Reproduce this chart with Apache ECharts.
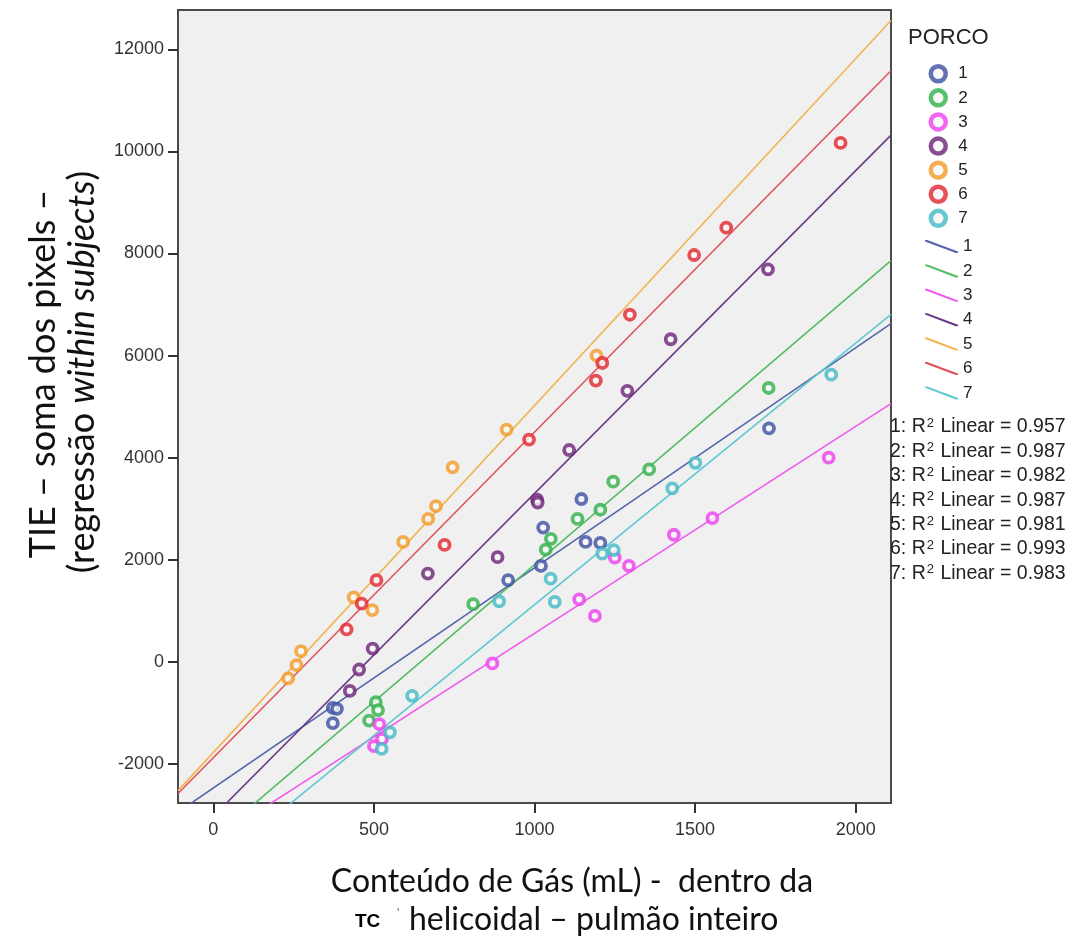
<!DOCTYPE html>
<html>
<head>
<meta charset="utf-8">
<script src="https://cdn.jsdelivr.net/npm/echarts@6/dist/echarts.min.js"></script>
<style>
  html, body { margin: 0; padding: 0; background: #ffffff; }
  #chart { width: 1075px; height: 942px; }
</style>
</head>
<body>
<div id="chart"></div>
<script>
// Gas content (mL, helical CT, whole lung) and TIE pixel sum, one pair of arrays per pig
const gasPorco1 = [372, 385, 372, 918, 1020, 1027, 1146, 1159, 1205, 1730];
const tiePorco1 = [-900, -920, -1200, 1600, 1880, 2630, 3190, 2350, 2330, 4575];

const gasPorco2 = [485, 506, 513, 809, 1035, 1051, 1134, 1205, 1245, 1357, 1729];
const tiePorco2 = [-1150, -790, -945, 1130, 2200, 2410, 2800, 2980, 3530, 3770, 5365];

const gasPorco3 = [500, 517, 525, 869, 1139, 1188, 1250, 1294, 1434, 1554, 1916];
const tiePorco3 = [-1650, -1220, -1510, -30, 1225, 900, 2040, 1880, 2490, 2815, 4000];

const gasPorco4 = [425, 454, 496, 668, 885, 1008, 1010, 1108, 1289, 1424, 1727];
const tiePorco4 = [-570, -150, 260, 1730, 2050, 3180, 3120, 4150, 5310, 6320, 7690];

const gasPorco5 = [233, 259, 273, 437, 495, 591, 669, 693, 745, 913, 1193];
const tiePorco5 = [-325, -65, 210, 1265, 1015, 2350, 2800, 3050, 3810, 4550, 6000];

const gasPorco6 = [415, 462, 508, 720, 983, 1191, 1211, 1297, 1497, 1597, 1953];
const tiePorco6 = [635, 1140, 1600, 2290, 4355, 5510, 5855, 6800, 7970, 8505, 10165];

const gasPorco7 = [524, 550, 619, 890, 1050, 1063, 1211, 1247, 1429, 1501, 1924];
const tiePorco7 = [-1705, -1380, -665, 1185, 1630, 1175, 2120, 2190, 3400, 3900, 5625];

const porcoNames = ['1', '2', '3', '4', '5', '6', '7'];
const r2Linear = [0.957, 0.987, 0.982, 0.987, 0.981, 0.993, 0.983];

const xTicks = [0, 500, 1000, 1500, 2000];
const yTicks = [-2000, 0, 2000, 4000, 6000, 8000, 10000, 12000];

const gasByPorco = [gasPorco1, gasPorco2, gasPorco3, gasPorco4, gasPorco5, gasPorco6, gasPorco7];
const tieByPorco = [tiePorco1, tiePorco2, tiePorco3, tiePorco4, tiePorco5, tiePorco6, tiePorco7];

const markerColors = ['#3c4fa2', '#2fb24a', '#ef3fef', '#6c2377', '#f29b27', '#e3262f', '#43b9c6'];
const lineColors   = ['#5566aa', '#52bd62', '#ee5bee', '#6a3b84', '#f2b452', '#e0535c', '#5ec7cf'];

const X_MIN = -110, X_MAX = 2110, Y_MIN = -2765, Y_MAX = 12770;

// ordinary least squares fit, one line per pig
function linearFit(xs, ys) {
  const n = xs.length;
  let sx = 0, sy = 0;
  for (let i = 0; i < n; i++) { sx += xs[i]; sy += ys[i]; }
  const mx = sx / n, my = sy / n;
  let sxy = 0, sxx = 0;
  for (let i = 0; i < n; i++) {
    sxy += (xs[i] - mx) * (ys[i] - my);
    sxx += (xs[i] - mx) * (xs[i] - mx);
  }
  const slope = sxy / sxx;
  return { slope: slope, intercept: my - slope * mx };
}

const series = [];
porcoNames.forEach(function (name, i) {
  series.push({
    name: name,
    type: 'scatter',
    z: 5,
    symbol: 'circle',
    symbolSize: 10,
    itemStyle: { color: '#f7f7f7', borderColor: markerColors[i], borderWidth: 3.8 },
    data: gasByPorco[i].map(function (g, k) { return [g, tieByPorco[i][k]]; })
  });
});
porcoNames.forEach(function (name, i) {
  const fit = linearFit(gasByPorco[i], tieByPorco[i]);
  series.push({
    name: 'Ajuste ' + name,
    type: 'line',
    z: 3,
    showSymbol: false,
    symbol: 'none',
    clip: true,
    silent: true,
    color: lineColors[i],
    lineStyle: { color: lineColors[i], width: 1.6 },
    data: [[X_MIN, fit.intercept + fit.slope * X_MIN], [X_MAX, fit.intercept + fit.slope * X_MAX]]
  });
});

const labelFont = 'Liberation Sans, Arial, sans-serif';
const titleFont = 'Lato, sans-serif';

const graphics = [];
// R² annotations for the fit lines
r2Linear.forEach(function (r2, i) {
  graphics.push({
    type: 'text',
    x: 890,
    y: 427 + i * 24.4,
    z: 10,
    style: {
      text: (i + 1) + ': R{sup|2} Linear = ' + r2.toFixed(3),
      font: '19.5px ' + labelFont,
      fill: '#222',
      align: 'left',
      verticalAlign: 'middle',
      rich: {
        sup: { fontSize: 13, fontFamily: labelFont, fill: '#222', verticalAlign: 'top', padding: [0, 1, 0, 1] }
      }
    }
  });
});

// y-axis title, two rotated lines
graphics.push({
  type: 'text', x: 43, y: 374, rotation: Math.PI / 2,
  style: { text: 'TIE – soma dos pixels –', font: '36px ' + titleFont, fill: '#111', align: 'center', verticalAlign: 'middle' }
});
graphics.push({
  type: 'text', x: 82, y: 372, rotation: Math.PI / 2,
  style: {
    text: '(regressão {it|within subjects})', font: '36px ' + titleFont, fill: '#111',
    align: 'center', verticalAlign: 'middle',
    rich: { it: { fontStyle: 'italic', fontSize: 36, fontFamily: titleFont, fill: '#111' } }
  }
});

// x-axis title
graphics.push({
  type: 'text', x: 572, y: 882,
  style: { text: 'Conteúdo de Gás (mL) -  dentro da', font: '32px ' + titleFont, fill: '#111', align: 'center', verticalAlign: 'middle' }
});
graphics.push({
  type: 'text', x: 355, y: 922,
  style: { text: 'TC', font: 'bold 19px ' + labelFont, fill: '#000', align: 'left', verticalAlign: 'middle' }
});
graphics.push({
  type: 'text', x: 397, y: 913,
  style: { text: "'", font: '13px ' + labelFont, fill: '#666', align: 'left', verticalAlign: 'middle' }
});
graphics.push({
  type: 'text', x: 409, y: 920,
  style: { text: 'helicoidal – pulmão inteiro', font: '32px ' + titleFont, fill: '#111', align: 'left', verticalAlign: 'middle' }
});

const plainNumber = function (v) { return String(v); };

const chart = echarts.init(document.getElementById('chart'), null, { renderer: 'canvas' });
chart.setOption({
  animation: false,
  backgroundColor: '#ffffff',
  title: {
    text: 'PORCO', left: 903, top: 22,
    textStyle: { fontFamily: labelFont, fontSize: 22, fontWeight: 'normal', color: '#222' }
  },
  legend: [
    {
      data: porcoNames,
      orient: 'vertical',
      left: 923.5, top: 59,
      itemWidth: 30, itemHeight: 15, itemGap: 4.6,
      icon: 'circle',
      itemStyle: { borderWidth: 4.5 },
      textStyle: { fontFamily: labelFont, fontSize: 17, color: '#222', lineHeight: 17 },
      selectedMode: false
    },
    {
      data: porcoNames.map(function (n, i) {
        return { name: 'Ajuste ' + n, itemStyle: { color: lineColors[i], borderWidth: 0 } };
      }),
      orient: 'vertical',
      left: 920, top: 233,
      itemWidth: 33, itemHeight: 13, itemGap: 7.4,
      icon: 'path://M0 0L2.2 0L33 11.6L33 13L30.8 13L0 1.4Z',
      itemStyle: { borderWidth: 0 },
      textStyle: { fontFamily: labelFont, fontSize: 17, color: '#222', lineHeight: 17 },
      formatter: function (n) { return n.replace('Ajuste ', ''); },
      selectedMode: false
    }
  ],
  grid: {
    left: 178, top: 10, right: 184, bottom: 139,
    show: true, backgroundColor: '#f0f0f0', borderColor: '#4a4a4a', borderWidth: 2
  },
  xAxis: {
    type: 'value', min: X_MIN, max: X_MAX,
    axisLine: { show: true, onZero: false, lineStyle: { color: '#4a4a4a', width: 2 } },
    axisTick: { show: true, length: 10, customValues: xTicks, lineStyle: { color: '#333', width: 2 } },
    axisLabel: { customValues: xTicks, formatter: plainNumber, margin: 18, fontFamily: labelFont, fontSize: 18, color: '#333' },
    splitLine: { show: false }
  },
  yAxis: {
    type: 'value', min: Y_MIN, max: Y_MAX,
    axisLine: { show: true, onZero: false, lineStyle: { color: '#4a4a4a', width: 2 } },
    axisTick: { show: true, length: 10, customValues: yTicks, lineStyle: { color: '#333', width: 2 } },
    axisLabel: { customValues: yTicks, formatter: plainNumber, margin: 14, fontFamily: labelFont, fontSize: 18, color: '#333' },
    splitLine: { show: false }
  },
  graphic: graphics,
  series: series
});
</script>
</body>
</html>
